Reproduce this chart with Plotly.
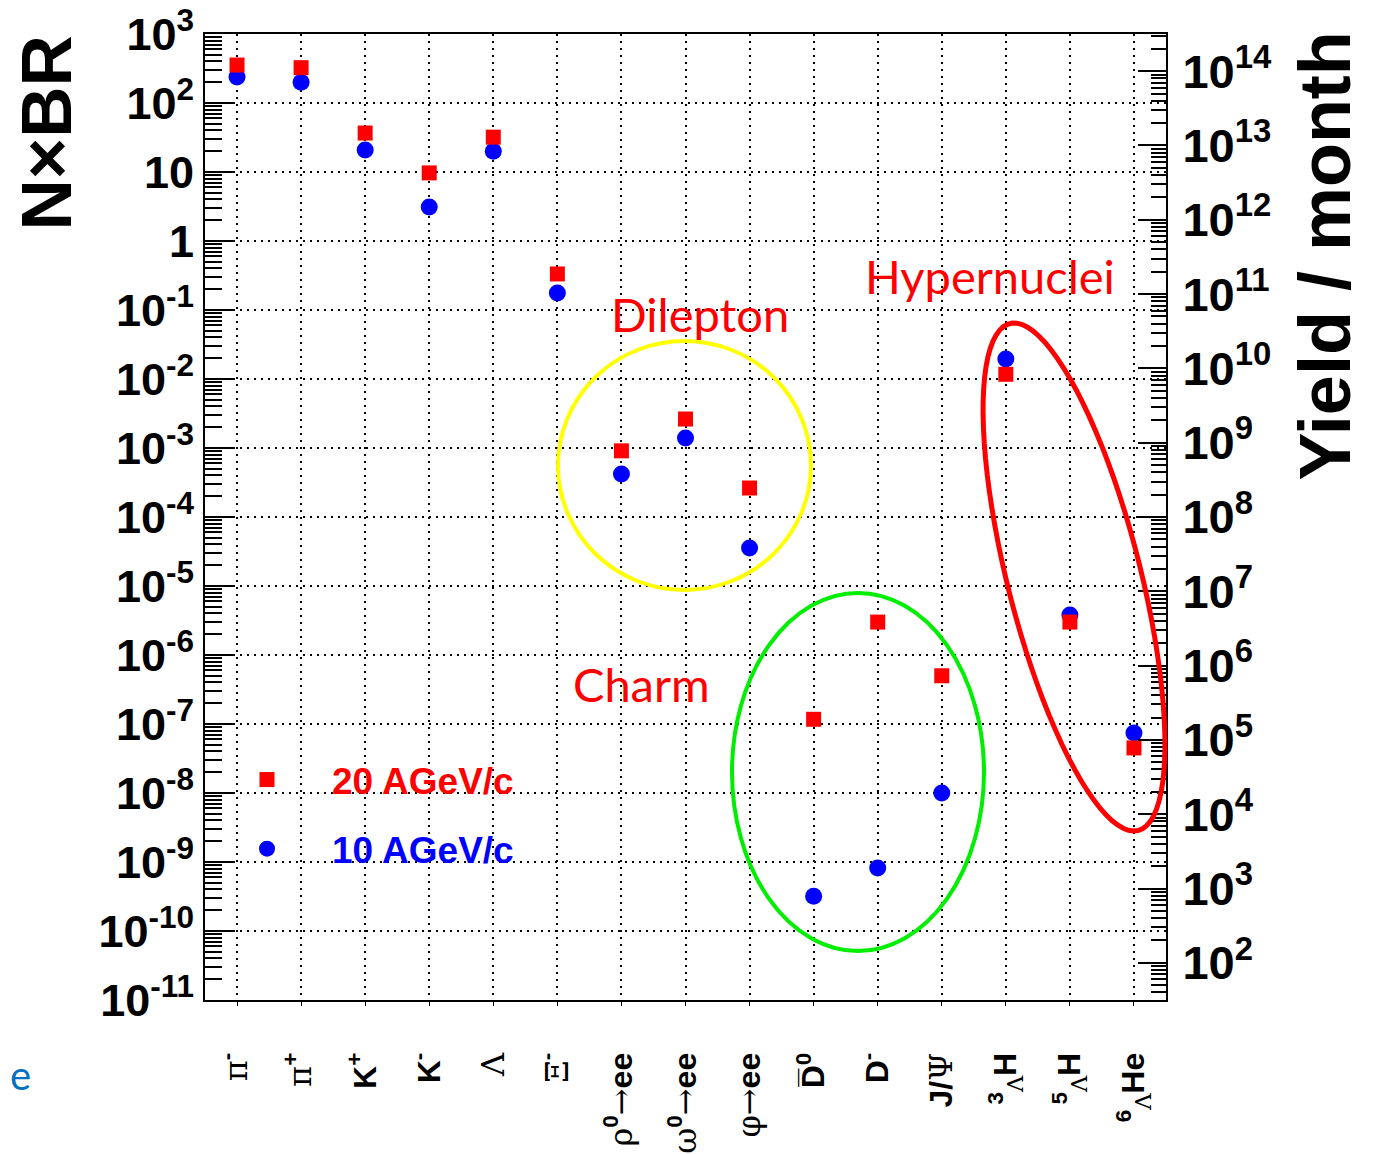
import numpy as np
import plotly.graph_objects as go

# ----------------------------
# Data
# ----------------------------
def greek(s):
    return f"<span style=\"font-family:'DejaVu Serif';font-weight:normal\">{s}</span>"

particles = [
    greek("π") + "<sup>-</sup>",
    greek("π") + "<sup>+</sup>",
    "K<sup>+</sup>",
    "K<sup>-</sup>",
    greek("Λ"),
    greek("Ξ") + "<sup>-</sup>",
    greek("ρ") + "<sup>0</sup>" + greek("→") + "ee",
    greek("ω") + "<sup>0</sup>" + greek("→") + "ee",
    greek("φ") + greek("→") + "ee",
    "D\u0305<sup>0</sup>",
    "D<sup>-</sup>",
    "J/" + greek("Ψ"),
    "<sup>3</sup><sub>" + greek("Λ") + "</sub>H",
    "<sup>5</sup><sub>" + greek("Λ") + "</sub>H",
    "<sup>6</sup><sub>" + greek("Λ") + "</sub>He",
]

nbr_20 = [355, 325, 36.7, 9.7, 32, 0.333, 9.1e-4, 2.63e-3, 2.63e-4,
          1.17e-7, 3.0e-6, 5.0e-7, 1.17e-2, 3.0e-6, 4.5e-8]
nbr_10 = [238, 200, 20.8, 3.1, 20, 0.176, 4.2e-4, 1.40e-3, 3.56e-5,
          3.2e-10, 8.2e-10, 1.0e-8, 1.95e-2, 3.8e-6, 7.4e-8]

left_exps = list(range(3, -12, -1))
right_exps = list(range(2, 15))

# ----------------------------
# Page geometry (screen pixels; page body adds an 8px offset)
# ----------------------------
W, H = 1375, 1154
OFF = 8
L, R, T, B = 205, 1166, 34, 1000


def px(x):
    return (x - L) / (R - L)


def py(y):
    return (B - y) / (B - T)


def sup_label(e):
    if e == 0:
        return "1"
    if e == 1:
        return "10"
    return f"10<sup>{e}</sup>"


fig = go.Figure()

fig.add_trace(go.Scatter(
    x=particles, y=nbr_10, mode="markers", name="<span style='color:#0000ff'>10 AGeV/c</span>",
    marker=dict(symbol="circle", size=17, color="#0000ff"),
    legendgroup="b", legendrank=2,
))
fig.add_trace(go.Scatter(
    x=particles, y=nbr_20, mode="markers", name="<span style='color:#ff0000'>20 AGeV/c</span>",
    marker=dict(symbol="square", size=15, color="#ff0000"),
    legendgroup="a", legendrank=1,
))
# empty trace so the right-hand yield axis gets drawn
fig.add_trace(go.Scatter(x=[], y=[], yaxis="y2", showlegend=False, hoverinfo="skip"))

# ----------------------------
# Ellipses around groups
# ----------------------------
shapes = [
    dict(type="circle", xref="paper", yref="paper",
         x0=px(558), x1=px(811), y0=py(590), y1=py(341),
         line=dict(color="#ffff00", width=4)),
    dict(type="circle", xref="paper", yref="paper",
         x0=px(732), x1=px(984), y0=py(951), y1=py(593),
         line=dict(color="#00ee00", width=4)),
]

cx, cy, a, b, th = 1074, 577, 261.5, 66.5, np.radians(14.2)
t = np.linspace(0, 2 * np.pi, 90)
ex = cx + a * np.cos(t) * np.sin(th) + b * np.sin(t) * np.cos(th)
ey = cy + a * np.cos(t) * np.cos(th) - b * np.sin(t) * np.sin(th)
path = "M " + " L ".join(f"{px(u):.5f},{py(v):.5f}" for u, v in zip(ex, ey)) + " Z"
shapes.append(dict(type="path", xref="paper", yref="paper", path=path,
                   line=dict(color="#ff0000", width=5)))

# ----------------------------
# Text
# ----------------------------
label_font = dict(family="Lato, 'Noto Sans', sans-serif", size=47, color="#ff0000")
title_font = dict(family="Liberation Sans", size=72, color="black", weight="bold")
annotations = [
    dict(text="Dilepton", x=px(700), y=py(314), xref="paper", yref="paper",
         xanchor="center", yanchor="middle", showarrow=False, font=label_font),
    dict(text="Hypernuclei", x=px(990), y=py(276), xref="paper", yref="paper",
         xanchor="center", yanchor="middle", showarrow=False, font=label_font),
    dict(text="Charm", x=px(641), y=py(684), xref="paper", yref="paper",
         xanchor="center", yanchor="middle", showarrow=False, font=label_font),
    dict(text="N×BR", x=px(46), y=py(34), xref="paper", yref="paper",
         xanchor="center", yanchor="top", textangle=-90, showarrow=False,
         font=dict(title_font, size=71)),
    dict(text="Yield / month", x=px(1325), y=py(30), xref="paper", yref="paper",
         xanchor="center", yanchor="top", textangle=-90, showarrow=False,
         font=title_font),
    dict(text="e", x=px(OFF), y=py(1075), xref="paper", yref="paper",
         xanchor="left", yanchor="middle", showarrow=False,
         font=dict(family="Lato, 'Noto Sans', sans-serif", size=40, color="#0070c0")),
]

grid_dash = "2px,5px"

fig.update_layout(
    width=W, height=H,
    margin=dict(l=L - OFF, r=W - (R - OFF), t=T - OFF, b=H - (B - OFF), autoexpand=False),
    paper_bgcolor="white", plot_bgcolor="white",
    shapes=shapes, annotations=annotations,
    showlegend=True,
    legend=dict(
        x=px(202), y=py(749), xanchor="left", yanchor="top",
        bgcolor="rgba(0,0,0,0)", itemwidth=120, tracegroupgap=18,
        traceorder="grouped",
        font=dict(family="Liberation Sans", size=37, weight="bold"),
    ),
    xaxis=dict(
        type="category", range=[-0.5, len(particles) - 0.5],
        showline=True, linecolor="black", linewidth=2, mirror=True,
        ticks="outside", ticklen=4, tickcolor="black",
        tickangle=-90, ticklabelstandoff=34,
        tickfont=dict(family="Liberation Sans", size=32, color="black", weight="bold"),
        showgrid=True, gridcolor="black", gridwidth=1.5, griddash=grid_dash,
        zeroline=False,
    ),
    yaxis=dict(
        type="log", range=[-11, 3],
        tickvals=[10.0 ** e for e in left_exps],
        ticktext=[sup_label(e) for e in left_exps],
        tickfont=dict(family="Liberation Sans", size=45, color="black", weight="bold"),
        ticks="inside", ticklen=30, tickwidth=2, tickcolor="black",
        ticklabelstandoff=0, ticklabeloverflow="allow",
        minor=dict(ticks="inside", ticklen=17, tickwidth=2, tickcolor="black",
                   tickvals=[m * 10.0 ** e for e in range(-11, 3) for m in range(2, 10)],
                   showgrid=False),
        showline=True, linecolor="black", linewidth=2,
        showgrid=True, gridcolor="black", gridwidth=1.5, griddash=grid_dash,
        zeroline=False,
    ),
    yaxis2=dict(
        type="log", range=[1.5, 14.5], overlaying="y", side="right",
        tickvals=[10.0 ** e for e in right_exps],
        ticktext=[sup_label(e) for e in right_exps],
        tickfont=dict(family="Liberation Sans", size=47, color="black", weight="bold"),
        ticks="inside", ticklen=28, tickwidth=2, tickcolor="black",
        ticklabelstandoff=5, ticklabeloverflow="allow",
        minor=dict(ticks="inside", ticklen=15, tickwidth=2, tickcolor="black",
                   tickvals=[m * 10.0 ** e for e in range(1, 15) for m in range(2, 10)],
                   showgrid=False),
        showline=True, linecolor="black", linewidth=2,
        showgrid=False, zeroline=False,
    ),
)

fig.write_html("out.html")
